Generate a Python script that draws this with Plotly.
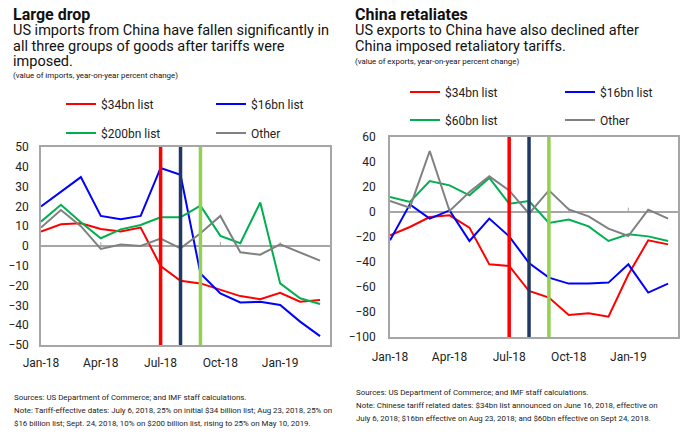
import plotly.graph_objects as go

months = ["Jan-18", "Feb-18", "Mar-18", "Apr-18", "May-18", "Jun-18", "Jul-18", "Aug-18",
          "Sep-18", "Oct-18", "Nov-18", "Dec-18", "Jan-19", "Feb-19", "Mar-19"]
tick_labels = ["Jan-18", "Apr-18", "Jul-18", "Oct-18", "Jan-19"]
tariff_months = ["Jul-18", "Aug-18", "Sep-18"]
tariff_colors = ["#FF0000", "#1F3864", "#92D050"]

# Left: US imports from China (yoy % change)
imp_34 = [7.3, 11.0, 11.5, 8.6, 7.3, 9.3, -10.1, -17.6, -18.9, -22.3, -25.3, -26.9, -23.6, -28.1, -27.3]
imp_16 = [20.0, 27.5, 34.8, 15.2, 13.5, 15.2, 39.4, 36.0, -13.9, -24.0, -28.5, -28.2, -29.8, -38.2, -45.5]
imp_200 = [12.3, 20.8, 12.0, 3.9, 8.4, 10.6, 14.5, 14.5, 20.4, 5.1, 1.4, 22.0, -18.9, -26.4, -29.3]
imp_oth = [9.3, 18.2, 10.0, -1.5, 0.7, 0.0, 3.7, -1.2, 6.4, 15.2, -3.2, -4.4, 0.8, -3.2, -7.4]

# Right: US exports to China (yoy % change)
exp_34 = [-18.7, -12.0, -4.0, -2.7, -12.5, -41.9, -43.2, -63.2, -68.5, -82.4, -81.0, -83.7, -50.0, -22.7, -25.9]
exp_16 = [-22.7, 6.1, -5.3, 1.3, -23.2, -5.3, -19.5, -40.8, -52.5, -57.3, -57.3, -56.5, -41.9, -64.5, -57.3]
exp_60 = [12.0, 8.0, 24.8, 21.3, 13.3, 27.2, 6.7, 8.8, -8.8, -6.1, -11.5, -23.2, -17.9, -19.5, -23.2]
exp_oth = [8.8, 3.5, 48.8, 0.8, 16.0, 28.5, 17.3, -1.3, 17.3, 2.1, -3.5, -13.3, -19.2, 1.9, -5.3]

RED, BLUE, GREEN, GRAY = "#FF0000", "#0000FF", "#00B050", "#808080"
FONT = "Roboto"
W, H = 690, 442


def px_x(p):
    return p / W


def px_y(p):
    return 1 - p / H


fig = go.Figure()

# (series, name, color, axes, legend left px, legend middle px)
series = [
    (imp_34, "$34bn list", RED, "x", "y", 61, 104),
    (imp_16, "$16bn list", BLUE, "x", "y", 211, 104),
    (imp_200, "$200bn list", GREEN, "x", "y", 61, 133),
    (imp_oth, "Other", GRAY, "x", "y", 211, 133),
    (exp_34, "$34bn list", RED, "x2", "y2", 405, 92),
    (exp_16, "$16bn list", BLUE, "x2", "y2", 560, 92),
    (exp_60, "$60bn list", GREEN, "x2", "y2", 405, 120),
    (exp_oth, "Other", GRAY, "x2", "y2", 560, 120),
]

leg_layout = {}
for i, (y, name, color, xa, ya, lx, ly) in enumerate(series):
    lid = "legend" if i == 0 else f"legend{i + 1}"
    fig.add_trace(go.Scatter(x=months, y=y, name=name, mode="lines",
                             line=dict(color=color, width=2), showlegend=True,
                             xaxis=xa, yaxis=ya, legend=lid))
    leg_layout[lid] = dict(x=px_x(lx), y=px_y(ly), xanchor="left", yanchor="middle",
                           orientation="h", itemwidth=30, bgcolor="rgba(0,0,0,0)",
                           font=dict(family=FONT, size=12, color="#222"))

axis_common = dict(showline=True, mirror=True, linecolor="#A6A6A6", linewidth=1.5,
                   showgrid=False, ticks="", tickfont=dict(family=FONT, size=12, color="#222"))

fig.update_layout(
    width=W, height=H, margin=dict(l=0, r=0, t=0, b=0, autoexpand=False),
    paper_bgcolor="white", plot_bgcolor="white", showlegend=True,
    font=dict(family=FONT, color="#222"),
    xaxis=dict(domain=[px_x(41), px_x(330)], type="category", categoryorder="array",
               categoryarray=months, range=[0, 14.5], tickvals=tick_labels,
               ticktext=tick_labels, zeroline=False, anchor="y", ticklabelstandoff=6, **axis_common),
    yaxis=dict(domain=[px_y(345), px_y(147)], range=[-50, 50], dtick=10, zeroline=True,
               zerolinecolor="#A6A6A6", zerolinewidth=1.5, anchor="x", ticklabelstandoff=8,
               **axis_common),
    xaxis2=dict(domain=[px_x(390), px_x(678)], type="category", categoryorder="array",
                categoryarray=months, range=[0, 14.5], tickvals=tick_labels,
                ticktext=tick_labels, zeroline=False, anchor="y2", ticklabelstandoff=8, **axis_common),
    yaxis2=dict(domain=[px_y(337), px_y(137)], range=[-100, 60], dtick=20, zeroline=True,
                zerolinecolor="#A6A6A6", zerolinewidth=1.5, anchor="x2", ticklabelstandoff=10,
                **axis_common),
    **leg_layout,
)

# vertical tariff lines
for xa, ya in [("x", "y"), ("x2", "y2")]:
    for m, c in zip(tariff_months, tariff_colors):
        fig.add_shape(type="line", xref=xa, yref=f"{ya} domain", x0=m, x1=m, y0=0, y1=1,
                      line=dict(color=c, width=3.5))
# small tick marks on the zero line
for xa, ya, d in [("x", "y", 2.0), ("x2", "y2", 3.5)]:
    for t in tick_labels[1:]:
        fig.add_shape(type="line", xref=xa, yref=ya, x0=t, x1=t, y0=d, y1=0,
                      line=dict(color="#A6A6A6", width=1), layer="below")


def text(x, y, s, size, bold=False, color="#111"):
    fig.add_annotation(xref="paper", yref="paper", x=px_x(x), y=px_y(y), text=s,
                       showarrow=False, xanchor="left", yanchor="middle", align="left",
                       xshift=-1,
                       font=dict(family=FONT, size=size, color=color,
                                 weight="bold" if bold else "normal"))


# left titles
text(12, 15, "Large drop", 16, bold=True)
text(12, 31, "US imports from China have fallen significantly in", 14.5)
text(12, 47, "all three groups of goods after tariffs were", 14.5)
text(12, 62, "imposed.", 14.5)
text(12, 75, "(value of imports, year-on-year percent change)", 7.9)
# right titles
text(354, 15, "China retaliates", 16, bold=True)
text(354, 31, "US exports to China have also declined after", 14.5)
text(354, 47, "China imposed retaliatory tariffs.", 14.5)
text(354, 62, "(value of exports, year-on-year percent change)", 7.9)

# footers
text(13, 397, "Sources: US Department of Commerce; and IMF staff calculations.", 7.9, color="#222")
text(13, 410, "Note: Tariff-effective dates: July 6, 2018, 25% on initial $34 billion list; Aug 23, 2018, 25% on", 7.9, color="#222")
text(13, 423, "$16 billion list; Sept. 24, 2018, 10% on $200 billion list, rising to 25% on May 10, 2019.", 7.9, color="#222")
text(355, 392, "Sources: US Department of Commerce; and IMF staff calculations.", 7.9, color="#222")
text(355, 405, "Note: Chinese tariff related dates: $34bn list announced on June 16, 2018, effective on", 7.9, color="#222")
text(355, 418, "July 6, 2018; $16bn effective on Aug 23, 2018; and $60bn effective on Sept 24, 2018.", 7.9, color="#222")

fig.write_html("out.html")
